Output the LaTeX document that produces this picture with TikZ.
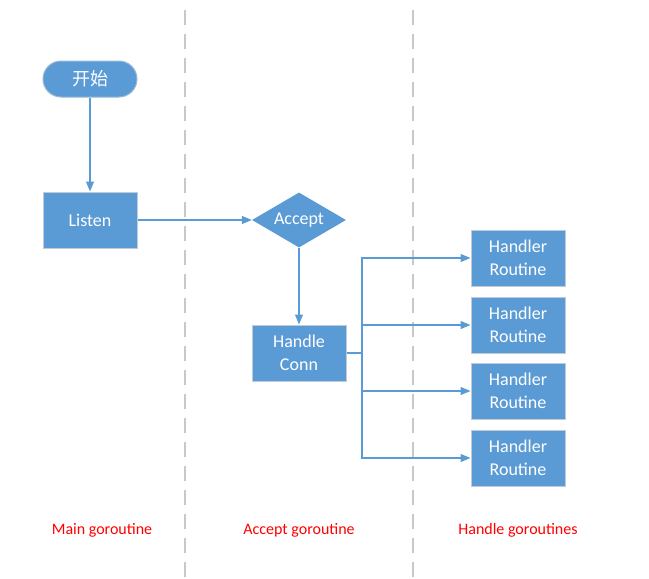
\documentclass[tikz,border=0pt]{standalone}
\usepackage{fontspec}
\setmainfont{Carlito}
\newfontfamily\cjk{Noto Sans CJK SC}
\usepackage{xcolor}
\usetikzlibrary{shapes.geometric, arrows.meta}
\definecolor{flowblue}{HTML}{5B9BD5}
\definecolor{laneline}{HTML}{C8C8C8}
\definecolor{boxedge}{HTML}{BFCBD6}
\tikzset{
    flowbox/.style={rectangle, fill=flowblue, draw=boxedge, line width=1pt, text=white,
        minimum width=94pt, minimum height=56pt, align=center, inner sep=0pt,
        font=\fontsize{18}{23}\selectfont},
    flowstart/.style={flowbox, rounded corners=18pt, minimum height=36pt, draw=boxedge!60!flowblue},
    flowdecide/.style={diamond, fill=flowblue, text=white, aspect=1.7, inner sep=0pt,
        minimum width=94pt, minimum height=55pt, font=\fontsize{18}{23}\selectfont},
    arrowline/.style={draw=flowblue, line width=1.2pt, -{Triangle[length=10pt,width=8pt]}},
    lane/.style={draw=laneline, line width=2pt, dash pattern=on 15pt off 9pt},
    lanelabel/.style={text=red, font=\fontsize{16}{18}\selectfont}
}
\begin{document}
\begin{tikzpicture}[x=1pt,y=-1pt]
        \useasboundingbox (0,0) rectangle (649,579);

        \draw[lane] (185,10) -- (185,579);
        \draw[lane] (413,10) -- (413,579);

        \node[flowstart] (start) at (90,79) {\cjk 开始};
        \node[flowbox] (listen) at (90,220) {Listen};
        \node[flowdecide] (accept) at (299,220) {Accept};
        \node[flowbox] (conn) at (299,353) {Handle\\Conn};
        \node[flowbox] (h1) at (518,258) {Handler\\Routine};
        \node[flowbox] (h2) at (518,325) {Handler\\Routine};
        \node[flowbox] (h3) at (518,391) {Handler\\Routine};
        \node[flowbox] (h4) at (518,458) {Handler\\Routine};
        \coordinate (fork) at (362,353);

        \draw[arrowline] (start) -- (listen);
        \draw[arrowline] (listen) -- (accept);
        \draw[arrowline] (accept) -- (conn);
        \draw[draw=flowblue, line width=1.2pt] (conn) -- (fork);
        \foreach \i in {1,...,4}
            \draw[arrowline] (fork) |- (h\i);

        \node[lanelabel] (mainlbl) at (102,530) {Main goroutine};
        \node[lanelabel] (acceptlbl) at (299,530) {Accept goroutine};
        \node[lanelabel] (handlelbl) at (518,530) {Handle goroutines};
    \end{tikzpicture}
\end{document}
